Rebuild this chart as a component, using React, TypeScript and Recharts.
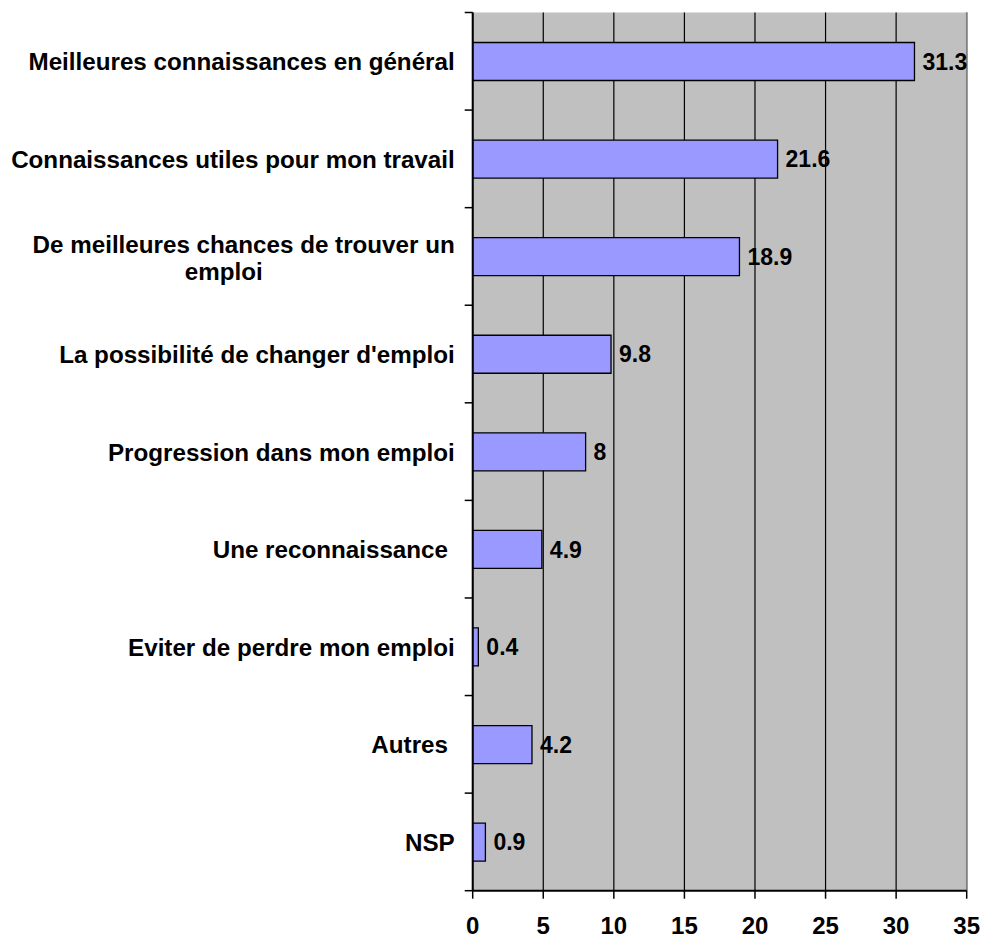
import React from "react";
import { BarChart, Bar, XAxis, YAxis, CartesianGrid, LabelList, ReferenceLine } from "recharts";

const categories = [
  "Meilleures connaissances en général",
  "Connaissances utiles pour mon travail",
  "De meilleures chances de trouver un\nemploi",
  "La possibilité de changer d'emploi",
  "Progression dans mon emploi",
  "Une reconnaissance ",
  "Eviter de perdre mon emploi",
  "Autres ",
  "NSP",
];
const values = [31.3, 21.6, 18.9, 9.8, 8, 4.9, 0.4, 4.2, 0.9];
const xTicks = [0, 5, 10, 15, 20, 25, 30, 35];

const data = categories.map((name, i) => ({ name, value: values[i] }));

const CHART_W = 983;
const CHART_H = 940;
const MARGIN_TOP = 12.5;
const MARGIN_RIGHT = 16.3;
const X_AXIS_H = 49.3;
const Y_AXIS_W = 472.7;
const BAND = (CHART_H - MARGIN_TOP - X_AXIS_H) / categories.length;
const FONT = "Arial, 'Liberation Sans', Helvetica, sans-serif";

function YTick(props: any) {
  const { y, payload, index } = props;
  const lines = String(payload.value).split("\n");
  const right = Y_AXIS_W - 18;
  const top = y - BAND / 2;
  return (
    <g>
      <line x1={Y_AXIS_W - 8} x2={Y_AXIS_W} y1={top} y2={top} stroke="#000" strokeWidth={1.5} />
      {index === categories.length - 1 && (
        <line x1={Y_AXIS_W - 8} x2={Y_AXIS_W} y1={y + BAND / 2} y2={y + BAND / 2} stroke="#000" strokeWidth={1.5} />
      )}
      <text
        fontSize={24.2}
        fontWeight="bold"
        fontFamily={FONT}
        fill="#000"
        style={{ whiteSpace: "pre" }}
      >
        {lines.length === 1 ? (
          <tspan x={right} y={y + 9} textAnchor="end">
            {lines[0]}
          </tspan>
        ) : (
          lines.map((l, i) =>
            i === 0 ? (
              <tspan key={i} x={right} y={y - 3.5} textAnchor="end">
                {l}
              </tspan>
            ) : (
              <tspan key={i} x={right - 231} y={y - 3.5 + 27 * i} textAnchor="middle">
                {l}
              </tspan>
            )
          )
        )}
      </text>
    </g>
  );
}

export default function App() {
  return (
    <div style={{ position: "absolute", left: 0, top: 0, width: CHART_W, height: CHART_H, background: "#fff" }}>
      <BarChart
        width={CHART_W}
        height={CHART_H}
        data={data}
        layout="vertical"
        margin={{ top: MARGIN_TOP, right: MARGIN_RIGHT, bottom: 0, left: 0 }}
      >
        <CartesianGrid horizontal={false} stroke="#000" strokeWidth={1.2} fill="#C0C0C0" fillOpacity={1} />
        <XAxis
          type="number"
          domain={[0, 35]}
          ticks={xTicks}
          interval={0}
          height={X_AXIS_H}
          tickSize={8}
          tickMargin={18}
          axisLine={{ stroke: "#000", strokeWidth: 2 }}
          tickLine={{ stroke: "#000", strokeWidth: 1.5 }}
          tick={{ fontSize: 24, fontWeight: "bold", fill: "#000", fontFamily: FONT }}
        />
        <YAxis
          type="category"
          dataKey="name"
          width={Y_AXIS_W}
          interval={0}
          tickLine={false}
          axisLine={{ stroke: "#000", strokeWidth: 2 }}
          tick={<YTick />}
        />
        <ReferenceLine x={35} stroke="#808080" strokeWidth={1.5} />
        <Bar dataKey="value" fill="#9999FF" stroke="#000" strokeWidth={1.3} barSize={38} isAnimationActive={false}>
          <LabelList
            dataKey="value"
            position="right"
            offset={8}
            fill="#000"
            style={{ fontSize: 23, fontWeight: "bold", fontFamily: FONT, fill: "#000" }}
          />
        </Bar>
      </BarChart>
    </div>
  );
}
